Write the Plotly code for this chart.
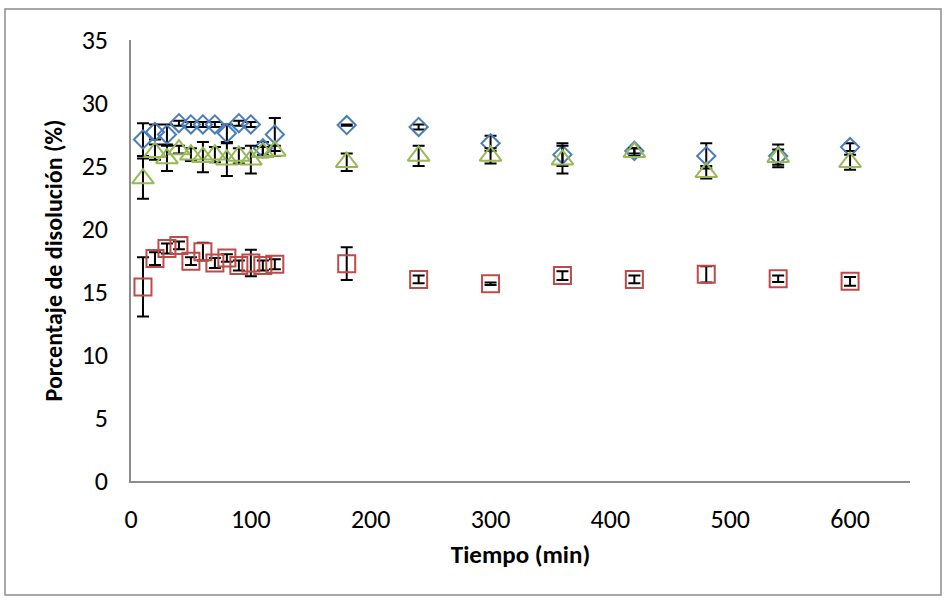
import plotly.graph_objects as go

# ---- data ----
tiempo = [10, 20, 30, 40, 50, 60, 70, 80, 90, 100, 110, 120,
          180, 240, 300, 360, 420, 480, 540, 600]

serie_azul = [27.1, 27.7, 27.5, 28.4, 28.3, 28.3, 28.3, 27.6, 28.4, 28.3, 26.4, 27.5,
              28.25, 28.1, 26.8, 25.9, 26.2, 25.8, 25.8, 26.5]
error_azul = [1.3, 0.6, 0.8, 0.2, 0.2, 0.2, 0.2, 0.7, 0.2, 0.2, 0.5, 1.3,
              0.05, 0.2, 0.6, 0.9, 0.2, 1.0, 0.9, 0.3]

serie_roja = [15.4, 17.65, 18.45, 18.7, 17.45, 18.2, 17.3, 17.7, 17.1, 17.3, 17.1, 17.2,
              17.25, 16.0, 15.65, 16.3, 16.0, 16.4, 16.05, 15.85]
error_roja = [2.35, 0.5, 0.4, 0.3, 0.3, 0.7, 0.4, 0.3, 0.4, 1.05, 0.4, 0.4,
              1.3, 0.3, 0.1, 0.35, 0.3, 0.65, 0.25, 0.35]

serie_verde = [24.0, 26.1, 25.6, 26.3, 25.9, 25.7, 25.9, 25.5, 25.8, 25.5, 26.1, 26.2,
               25.3, 25.8, 25.8, 25.5, 26.1, 24.5, 25.7, 25.3]
error_verde = [1.6, 0.6, 1.0, 0.3, 0.5, 1.2, 0.6, 1.3, 0.6, 1.1, 0.4, 0.4,
               0.7, 0.8, 0.6, 1.1, 0.3, 0.5, 0.6, 0.6]

x_ticks = [0, 100, 200, 300, 400, 500, 600]
y_ticks = [0, 5, 10, 15, 20, 25, 30, 35]

FONT = "Carlito, Lato, 'Open Sans', sans-serif"

def err(vals):
    return dict(type="data", array=vals, visible=True, color="black",
                thickness=2, width=6)

fig = go.Figure()
fig.add_trace(go.Scatter(
    x=tiempo, y=serie_azul, mode="markers", error_y=err(error_azul),
    marker=dict(symbol="diamond-open", size=14, color="#4A7EBB",
                line=dict(width=2, color="#4A7EBB")),
    showlegend=False))
fig.add_trace(go.Scatter(
    x=tiempo, y=serie_roja, mode="markers", error_y=err(error_roja),
    marker=dict(symbol="square-open", size=17, color="#BE4B48",
                line=dict(width=2, color="#BE4B48")),
    showlegend=False))
fig.add_trace(go.Scatter(
    x=tiempo, y=serie_verde, mode="markers", error_y=err(error_verde),
    marker=dict(symbol="triangle-up-open", size=19, color="#98B954",
                line=dict(width=2, color="#98B954")),
    showlegend=False))

L, R, T, B = 131, 36, 40, 119
W, H = 946, 600
pw, ph = W - L - R, H - T - B

def px_x(px):
    return (px - L) / pw

def px_y(py):
    return (H - B - py) / ph

fig.add_shape(type="rect", xref="paper", yref="paper",
              x0=px_x(5), x1=px_x(941), y0=px_y(595), y1=px_y(9),
              line=dict(color="#8C8C8C", width=1.5), layer="below")

fig.update_layout(
    width=W, height=H,
    margin=dict(l=L, r=R, t=T, b=B),
    paper_bgcolor="white", plot_bgcolor="white",
    font=dict(family=FONT, color="black"),
    xaxis=dict(range=[0, 650], tickvals=x_ticks, showgrid=False, zeroline=False,
               showline=True, linecolor="#8C8C8C", linewidth=1.5,
               ticks="outside", ticklen=14, tickcolor="rgba(0,0,0,0)",
               tickfont=dict(size=26, family=FONT),
               title=dict(text="<b>Tiempo (min)</b>", font=dict(size=25, family=FONT),
                          standoff=12)),
    yaxis=dict(range=[0, 35], tickvals=y_ticks, showgrid=False, zeroline=False,
               showline=True, linecolor="#8C8C8C", linewidth=1.5,
               ticks="outside", ticklen=16, tickcolor="rgba(0,0,0,0)",
               tickfont=dict(size=26, family=FONT),
               title=dict(text="<b>Porcentaje de disolución (%)</b>",
                          font=dict(size=24, family=FONT), standoff=12)),
)

fig.write_html("out.html")
